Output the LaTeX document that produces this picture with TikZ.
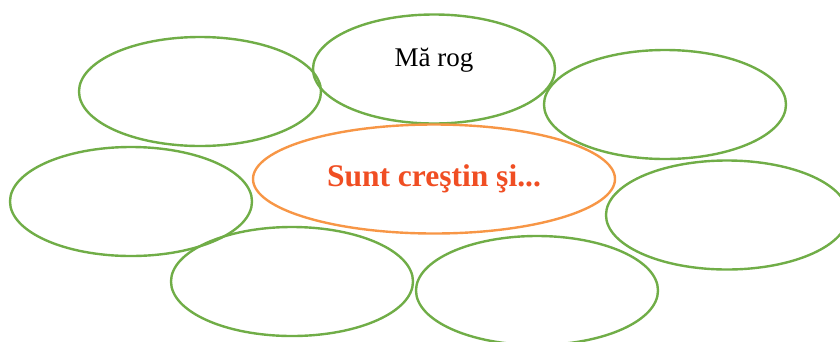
\documentclass[tikz,border=0pt]{standalone}
\usepackage{fontspec}
\setmainfont{Liberation Serif}
\usetikzlibrary{shapes.geometric}
\definecolor{leafgreen}{RGB}{112,173,71}
\definecolor{rimorange}{RGB}{247,150,70}
\definecolor{titlered}{RGB}{240,78,35}

\begin{document}
\begin{tikzpicture}[x=1pt,y=-1pt,
  bubble/.style={ellipse, draw=leafgreen, line width=2.4pt, inner sep=0pt,
    minimum width=242pt, minimum height=109pt},
  core/.style={bubble, draw=rimorange, minimum width=362pt,
    font=\fontsize{31.5}{36}\selectfont\bfseries, text=titlered}]
  \useasboundingbox (0,0) rectangle (840,341);
  \node[bubble] (topleft)  at (200,91.5) {};
  \node[bubble] (rog)      at (434,69) {};
  \node[bubble] (topright) at (665,104.5) {};
  \node[bubble] (left)     at (131,201.5) {};
  \node[bubble] (right)    at (727,215) {};
  \node[bubble] (botleft)  at (292,281.5) {};
  \node[bubble] (botright) at (537,290.5) {};
  \node[core]   (centre)   at (434,179) {Sunt creştin şi...};
  \node[font=\fontsize{27}{31}\selectfont] (rogtext)
    at ([yshift=9pt]rog.center) {Mă rog};
\end{tikzpicture}
\end{document}
